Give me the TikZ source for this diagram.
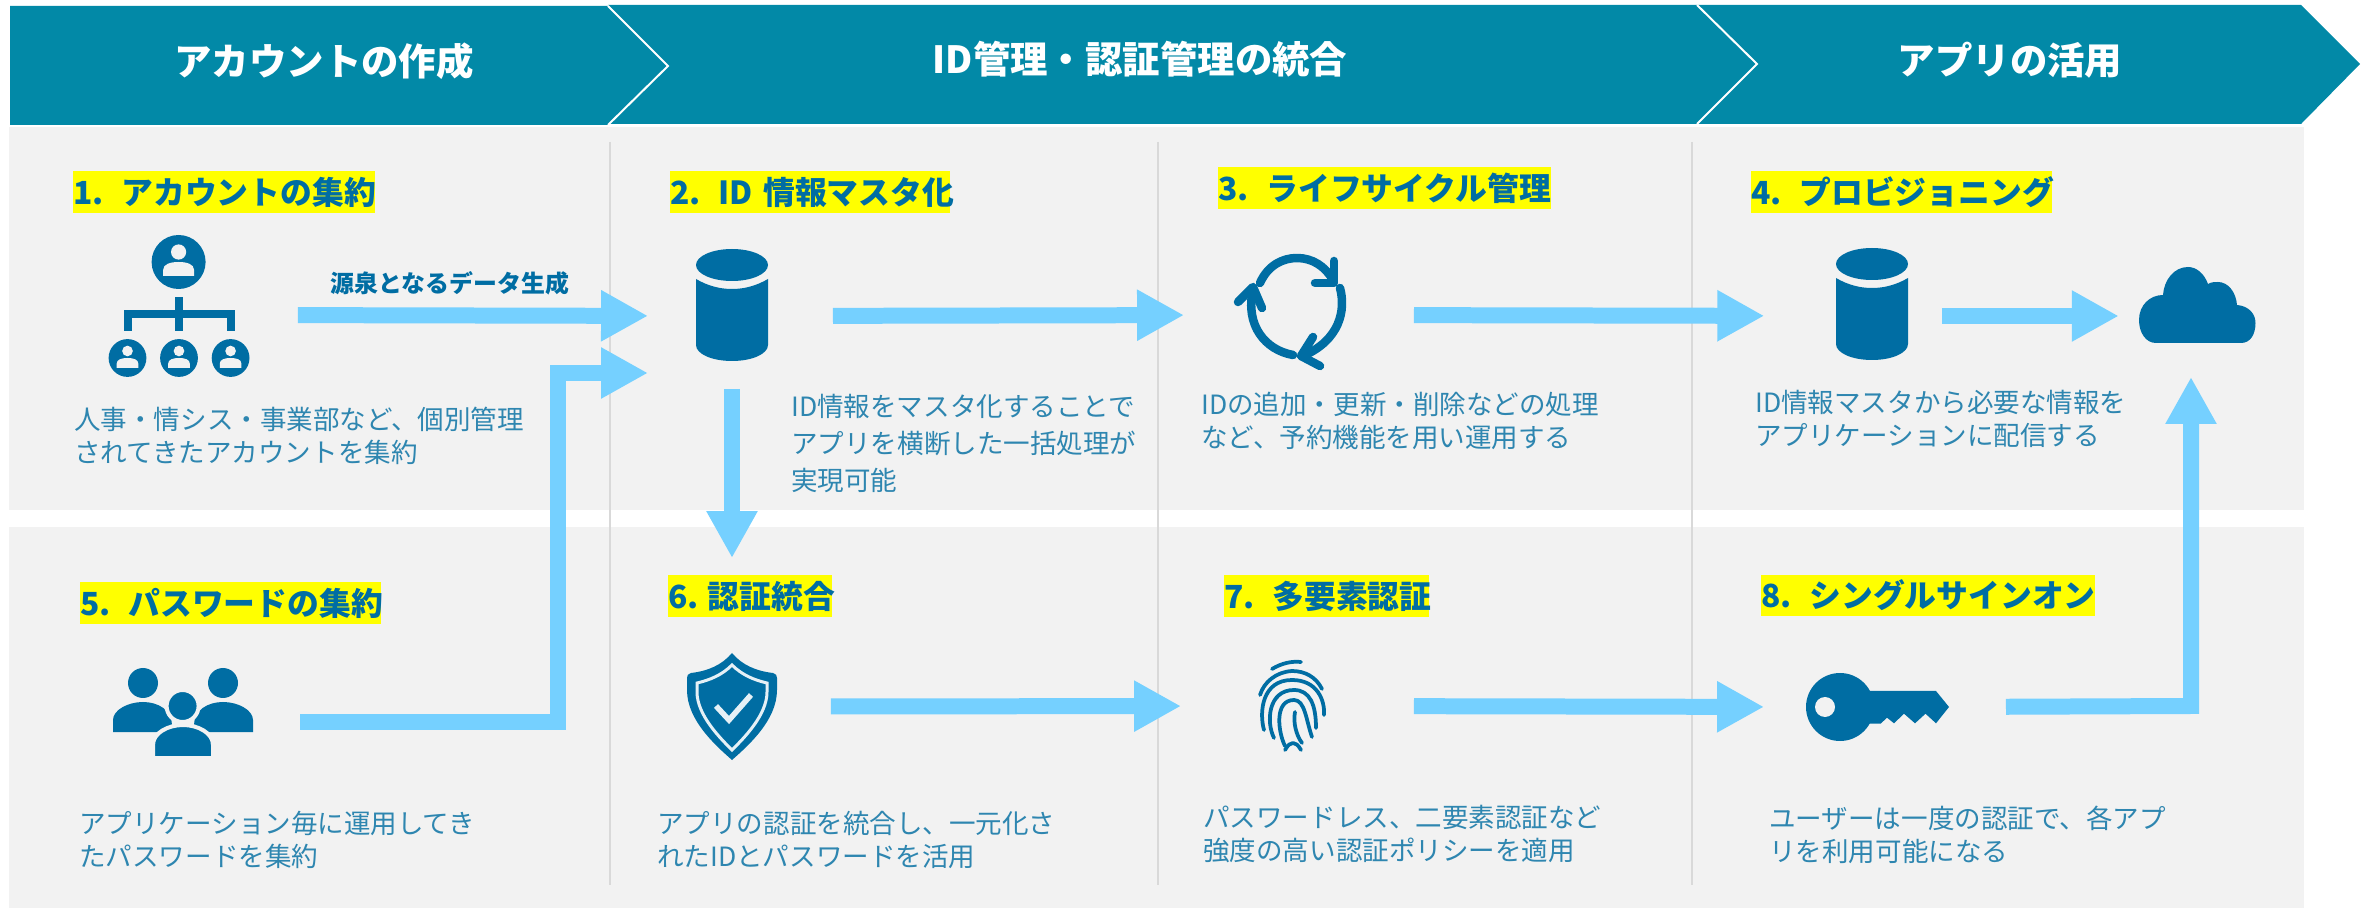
\documentclass[tikz,border=0pt]{standalone}
\usepackage{fontspec}
\setmainfont{Noto Sans CJK JP}
\usetikzlibrary{arrows.meta}
\definecolor{bannerteal}{HTML}{0289A7}
\definecolor{panelgray}{HTML}{F2F2F2}
\definecolor{rulegray}{HTML}{D9D9D9}
\definecolor{iconblue}{HTML}{006DA3}
\definecolor{descblue}{HTML}{2E86B0}
\definecolor{flowblue}{HTML}{75D0FF}
\definecolor{stepyellow}{HTML}{FFFF00}
\tikzset{
	banner/.style={fill=bannerteal},
	bannertext/.style={text=white, font=\bfseries\fontsize{21.3}{24}\selectfont, inner sep=0pt},
	chevronline/.style={draw=white, line width=0.04cm, line join=miter},
	stephead/.style={anchor=west, fill=stepyellow, text=iconblue, align=left, inner sep=0pt, minimum height=0.84cm, font=\bfseries\fontsize{18.1}{20}\selectfont},
	desc/.style={anchor=west, text=descblue, align=left, inner sep=0pt, font=\fontsize{15.1}{18.8}\selectfont},
	iconbox/.style={inner sep=0pt, outer sep=0pt},
	flowarrow/.style={draw=flowblue, line width=0.32cm, line join=miter, -{Triangle[length=0.94cm,width=0.96cm]}},
	iconline/.style={draw=iconblue, line cap=round, line join=round},
	pics/person/.style={code={
		\fill[iconblue] (0,0) circle (27);
		\fill[panelgray] (0,-10) circle (7.6);
		\fill[panelgray] (-15.5,14) -- (-15.5,8) .. controls (-15.5,2) and (-8,0) .. (0,0) .. controls (8,0) and (15.5,2) .. (15.5,8) -- (15.5,14) -- cycle;
	}},
	pics/dbcan/.style={code={
		\fill[iconblue] (0,-40) ellipse (36 and 16);
		\fill[iconblue] (-36,-26) .. controls (-24,-19) and (-12,-16) .. (0,-16) .. controls (12,-16) and (24,-19) .. (36,-26) -- (36,40) .. controls (36,49) and (20,56) .. (0,56) .. controls (-20,56) and (-36,49) .. (-36,40) -- cycle;
	}}
}
\begin{document}
\begin{tikzpicture}[x=0.02cm, y=-0.02cm]
	\useasboundingbox (0,0) rectangle (2371,908);

	% Panels
	\fill[panelgray] (9,127) rectangle (2304,510);
	\fill[panelgray] (9,527) rectangle (2304,908);
	\foreach \px in {610,1158,1692} {
		\draw[rulegray, line width=0.03cm] (\px,142) -- (\px,885);
	}

	% Banner
	\fill[banner] (10,6) -- (608,6) -- (668,66) -- (608,125) -- (10,125) -- cycle;
	\fill[banner] (608,5) -- (1697,5) -- (1757,64) -- (1697,124) -- (608,124) -- (668,66) -- cycle;
	\fill[banner] (1697,5) -- (2301,5) -- (2360,64) -- (2301,124) -- (1697,124) -- (1757,64) -- cycle;
	\draw[chevronline] (608,6) -- (668,66) -- (608,125);
	\draw[chevronline] (1697,5) -- (1757,64) -- (1697,124);
	\node[bannertext] (phase-a) at (324,61) {アカウントの作成};
	\node[bannertext] (phase-b) at (1140,59) {ID管理・認証管理の統合};
	\node[bannertext] (phase-c) at (2010,60) {アプリの活用};

	% Step titles
	\node[stephead, text width=6.04cm] (head-1) at (73,192.5) {\mbox{1.\hspace{10pt}アカウントの集約}};
	\node[stephead, text width=5.60cm] (head-2) at (670,192) {\mbox{2.\hspace{10pt}ID 情報マスタ化}};
	\node[stephead, text width=6.66cm] (head-3) at (1218,188.5) {\mbox{3.\hspace{10pt}ライフサイクル管理}};
	\node[stephead, text width=6.02cm] (head-4) at (1751,192) {\mbox{4.\hspace{10pt}プロビジョニング}};
	\node[stephead, text width=6.02cm] (head-5) at (80,603) {\mbox{5.\hspace{10pt}パスワードの集約}};
	\node[stephead, text width=3.28cm] (head-6) at (668,596) {\mbox{6.\hspace{5pt}認証統合}};
	\node[stephead, text width=4.10cm] (head-7) at (1224,596) {\mbox{7.\hspace{10pt}多要素認証}};
	\node[stephead, text width=6.68cm] (head-8) at (1761,595.5) {\mbox{8.\hspace{10pt}シングルサインオン}};

	% Step texts
	\node[desc] (desc-1) at (74,435.5) {人事・情シス・事業部など、個別管理\\されてきたアカウントを集約};
	\node[desc] (desc-2) at (791,443.5) {ID情報をマスタ化することで\\[2.5pt]アプリを横断した一括処理が\\[2.5pt]実現可能};
	\node[desc] (desc-3) at (1201,421) {IDの追加・更新・削除などの処理\\など、予約機能を用い運用する};
	\node[desc] (desc-4) at (1755,419) {ID情報マスタから必要な情報を\\アプリケーションに配信する};
	\node[desc] (desc-5) at (79,840) {アプリケーション毎に運用してき\\たパスワードを集約};
	\node[desc] (desc-6) at (657,840) {アプリの認証を統合し、一元化さ\\れたIDとパスワードを活用};
	\node[desc] (desc-7) at (1203,834.5) {パスワードレス、二要素認証など\\強度の高い認証ポリシーを適用};
	\node[desc] (desc-8) at (1769,834.5) {ユーザーは一度の認証で、各アプ\\リを利用可能になる};

	% Icon places
	\node[iconbox, minimum width=2.84cm, minimum height=2.84cm] (org) at (179,315) {};
	\node[iconbox, minimum width=1.44cm, minimum height=1.80cm] (db-two) at (732,316) {};
	\node[iconbox, minimum width=2.26cm, minimum height=2.00cm] (cycle) at (1291.5,315) {};
	\node[iconbox, minimum width=1.43cm, minimum height=1.80cm] (db-four) at (1872,316) {};
	\node[iconbox, minimum width=2.33cm, minimum height=1.52cm] (cloud) at (2197,316) {};
	\node[iconbox, minimum width=2.79cm, minimum height=1.76cm] (people) at (183,722) {};
	\node[iconbox, minimum width=1.80cm, minimum height=2.14cm] (shield) at (732,706.5) {};
	\node[iconbox, minimum width=1.32cm, minimum height=1.82cm] (finger) at (1292,706) {};
	\node[iconbox, minimum width=2.86cm, minimum height=1.38cm] (key) at (1877.5,707) {};
	\coordinate (master-in) at (648,373);
	\coordinate (master-bend) at (558,722);
	\coordinate (master-turn) at (558,373);
	\coordinate (cloud-bend) at (2191,706);
	\coordinate (cloud-in) at (2191,377);

	% Connections
	\draw[flowarrow, shorten <=0.96cm, shorten >=0.96cm] (org.east) -- (db-two.west);
	\draw[flowarrow, shorten <=0.95cm] (people.east) -- (master-bend) -- (master-turn) -- (master-in);
	\draw[flowarrow, shorten <=1.30cm, shorten >=1.02cm] (db-two.east) -- (cycle.west);
	\draw[flowarrow, shorten <=0.56cm, shorten >=1.90cm] (db-two.south) -- (shield.north);
	\draw[flowarrow, shorten <=1.32cm, shorten >=1.44cm] (cycle.east) -- (db-four.west);
	\draw[flowarrow, shorten <=0.68cm, shorten >=0.40cm] (db-four.east) -- (cloud.west);
	\draw[flowarrow, shorten <=1.08cm, shorten >=1.56cm] (shield.east) -- (finger.west);
	\draw[flowarrow, shorten <=1.78cm, shorten >=0.84cm] (finger.east) -- (key.west);
	\draw[flowarrow, shorten <=1.14cm] (key.east) -- (cloud-bend) -- (cloud-in);
	\node[text=iconblue, inner sep=0pt, font=\bfseries\fontsize{13.6}{16}\selectfont] (source-label) at (450,283) {源泉となるデータ生成};

	% Org icon
	\pic at (178.6,262) {person};
	\foreach \px in {127.5,179,230.6} {
		\pic[scale=0.7] at (\px,358) {person};
	}
	\fill[iconblue] (175,297) rectangle (183,331);
	\fill[iconblue] (123.5,310) rectangle (235,318);
	\fill[iconblue] (123.5,310) rectangle (131.5,331);
	\fill[iconblue] (227,310) rectangle (235,331);

	% Database icons
	\pic at (732,305) {dbcan};
	\pic at (1872,304) {dbcan};

	% Cycle icon
	\begin{scope}[iconline, line width=0.17cm]
		\draw (1260,283) .. controls (1268,265) and (1283,258) .. (1297,258) .. controls (1312,258) and (1325,266) .. (1333,280);
		\draw (1334,261) -- (1334,283) -- (1315,283);
		\draw (1340,288) .. controls (1346,310) and (1340,340) .. (1303,356);
		\draw (1313,337) -- (1301,356) -- (1320,366);
		\draw (1293,355) .. controls (1265,350) and (1245,325) .. (1253,290);
		\draw (1238,302) -- (1253,287) -- (1262,308);
	\end{scope}

	% Cloud icon
	\fill[iconblue] (2156,343) -- (2241,343) .. controls (2250,343) and (2255.5,335) .. (2255.5,323) .. controls (2255.5,313) and (2248,306) .. (2237,305) .. controls (2236,292) and (2228,282) .. (2218,282) .. controls (2215,282) and (2211,282) .. (2208,284) .. controls (2204,273) and (2196,267) .. (2188,267) .. controls (2174,267) and (2164,280) .. (2163,295) .. controls (2150,295) and (2139,305) .. (2139,320) .. controls (2139,333) and (2146,343) .. (2156,343) -- cycle;

	% People icon
	\fill[iconblue] (143,683) circle (15);
	\fill[iconblue] (223,683) circle (15);
	\fill[iconblue] (113,732) -- (113,720) .. controls (113,710) and (128,702) .. (143,702) .. controls (158,702) and (172,710) .. (172,725) -- (172,732) -- cycle;
	\fill[iconblue] (253,732) -- (253,720) .. controls (253,710) and (238,702) .. (223,702) .. controls (208,702) and (194,710) .. (194,725) -- (194,732) -- cycle;
	\filldraw[fill=iconblue, draw=panelgray, line width=0.08cm] (182.6,706) circle (16);
	\filldraw[fill=iconblue, draw=panelgray, line width=0.08cm] (153,758) -- (153,745) .. controls (153,733) and (168,725) .. (183,725) .. controls (198,725) and (213,733) .. (213,745) -- (213,758) -- cycle;

	% Shield icon
	\fill[iconblue] (732,653) .. controls (722,665) and (708,671) .. (691,673) .. controls (688,674) and (687,675) .. (687,678) -- (687,690) .. controls (687,720) and (715,745) .. (732,760) .. controls (749,745) and (777,720) .. (777,690) -- (777,678) .. controls (777,675) and (776,674) .. (773,673) .. controls (756,671) and (742,665) .. (732,653) -- cycle;
	\draw[white!90!iconblue, line width=0.06cm] (732,665) .. controls (722,675) and (710,680) .. (697,683) -- (697,692) .. controls (697,715) and (720,738) .. (732,750) .. controls (744,738) and (767,715) .. (767,692) -- (767,683) .. controls (754,680) and (742,675) .. (732,665) -- cycle;
	\draw[white!90!iconblue, line width=0.11cm] (716,706) -- (729,720) -- (751,695);

	% Fingerprint icon
	\begin{scope}[iconline, line width=0.075cm]
		\draw (1272,669) .. controls (1282,663) and (1292,661) .. (1301,662);
		\draw (1260,695) .. controls (1264,682) and (1276,672) .. (1292,671) .. controls (1305,671) and (1316,677) .. (1322,689);
		\draw (1264,730) .. controls (1259,712) and (1262,680) .. (1292,680) .. controls (1317,680) and (1325,700) .. (1324,715);
		\draw (1274,738) .. controls (1266,722) and (1268,690) .. (1294,690) .. controls (1310,690) and (1316,705) .. (1316,728);
		\draw (1285,746) .. controls (1278,732) and (1274,700) .. (1294,700) .. controls (1305,700) and (1306,720) .. (1312,737);
		\draw (1295,712) .. controls (1293,722) and (1296,735) .. (1302,743);
		\draw (1285,750) .. controls (1288,745) and (1290,743) .. (1293,743) .. controls (1296,743) and (1298,745) .. (1301,750);
	\end{scope}

	% Key icon
	\fill[iconblue] (1840,707) circle (34);
	\fill[iconblue] (1865,691) -- (1936,691) -- (1949,707) -- (1936,723.3) -- (1925.5,713.7) -- (1915,723.3) -- (1904,713.7) -- (1894,723.3) -- (1887,717.7) -- (1880.6,723.7) -- (1865,723.7) -- cycle;
	\fill[panelgray] (1825,707) circle (10);
\end{tikzpicture}
\end{document}
